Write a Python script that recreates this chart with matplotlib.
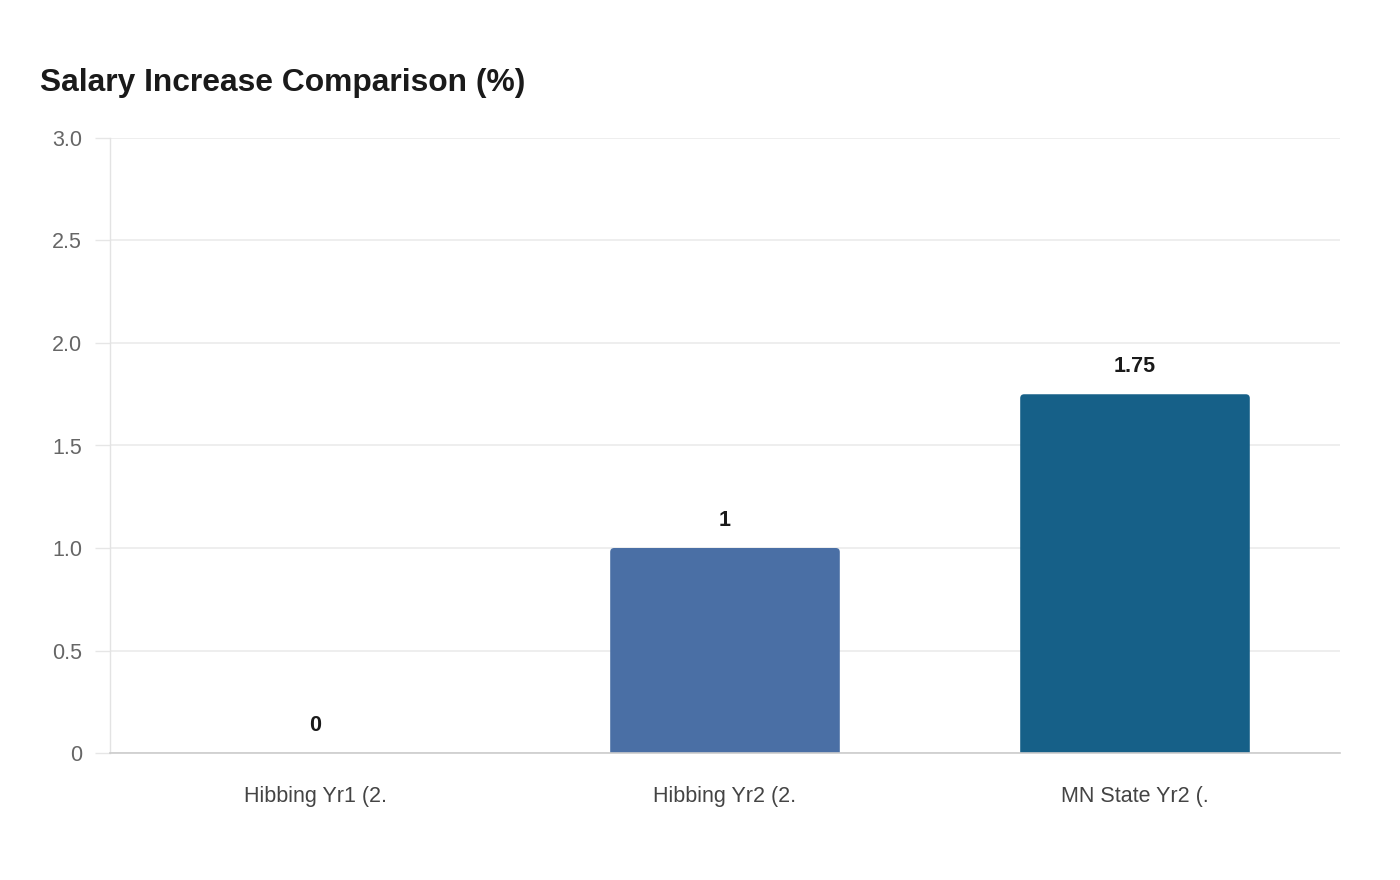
import matplotlib
matplotlib.use("Agg")
import matplotlib.pyplot as plt
from matplotlib.patches import FancyBboxPatch

categories = ["Hibbing Yr1 (2.", "Hibbing Yr2 (2.", "MN State Yr2 (."]
values = [0, 1, 1.75]
value_labels = ["0", "1", "1.75"]
bar_colors = ["#5b7fb5", "#4a6fa5", "#166088"]
yticks = [0, 0.5, 1.0, 1.5, 2.0, 2.5, 3.0]
ytick_labels = ["0", "0.5", "1.0", "1.5", "2.0", "2.5", "3.0"]

plt.rcParams['font.family'] = ['Liberation Sans', 'DejaVu Sans']

W, H = 1400, 880
fig = plt.figure(figsize=(W / 100, H / 100), dpi=100)
ax = fig.add_axes([110 / W, 1 - 753 / H, 1230 / W, 615 / H])

x = list(range(len(categories)))
bars = ax.bar(x, values, width=0.56, color=bar_colors, zorder=3)
ax.set_xlim(-0.5, len(categories) - 0.5)
ax.set_ylim(0, 3.0)

# rounded top corners
xr_per_px = 3.0 / 1230
yr_per_px = 3.0 / 615
aspect = yr_per_px / xr_per_px
r = 4 * xr_per_px
for b, c in zip(bars, bar_colors):
    b.set_visible(False)
    ext = 6 * yr_per_px
    p = FancyBboxPatch((b.get_x(), -ext), b.get_width(), b.get_height() + ext,
                       boxstyle=f"round,pad=0,rounding_size={r}",
                       mutation_aspect=aspect, facecolor=c, edgecolor='none',
                       zorder=3, clip_on=True)
    ax.add_patch(p)
    p.set_clip_box(ax.bbox)

for xi, v, lab in zip(x, values, value_labels):
    ax.annotate(lab, (xi, v), xytext=(0, 16), textcoords='offset points',
                ha='center', va='baseline', fontsize=15.5, fontweight='bold',
                color='#1a1a1a', zorder=4)

ax.set_yticks(yticks)
ax.set_yticklabels(ytick_labels)
ax.set_xticks(x)
ax.set_xticklabels(categories)
ax.tick_params(axis='y', length=11, width=1, color='#e6e6e6', pad=9,
               labelsize=15.5, labelcolor='#666666')
ax.tick_params(axis='x', length=0, pad=24, labelsize=15.5, labelcolor='#444444')

ax.grid(axis='y', color='#ebebeb', linewidth=1.2, zorder=0)
ax.set_axisbelow(True)
for s in ['top', 'right']:
    ax.spines[s].set_visible(False)
ax.spines['left'].set_color('#e3e3e3')
ax.spines['left'].set_linewidth(1.0)
ax.spines['bottom'].set_color('#cccccc')
ax.spines['bottom'].set_linewidth(1.2)
ax.spines['bottom'].set_zorder(5)

fig.text(40 / W, 1 - 91 / H, "Salary Increase Comparison (%)", ha='left',
         va='baseline', fontsize=22.9, fontweight='bold', color='#1a1a1a')

fig.savefig("out.png", dpi=100, facecolor='white')
